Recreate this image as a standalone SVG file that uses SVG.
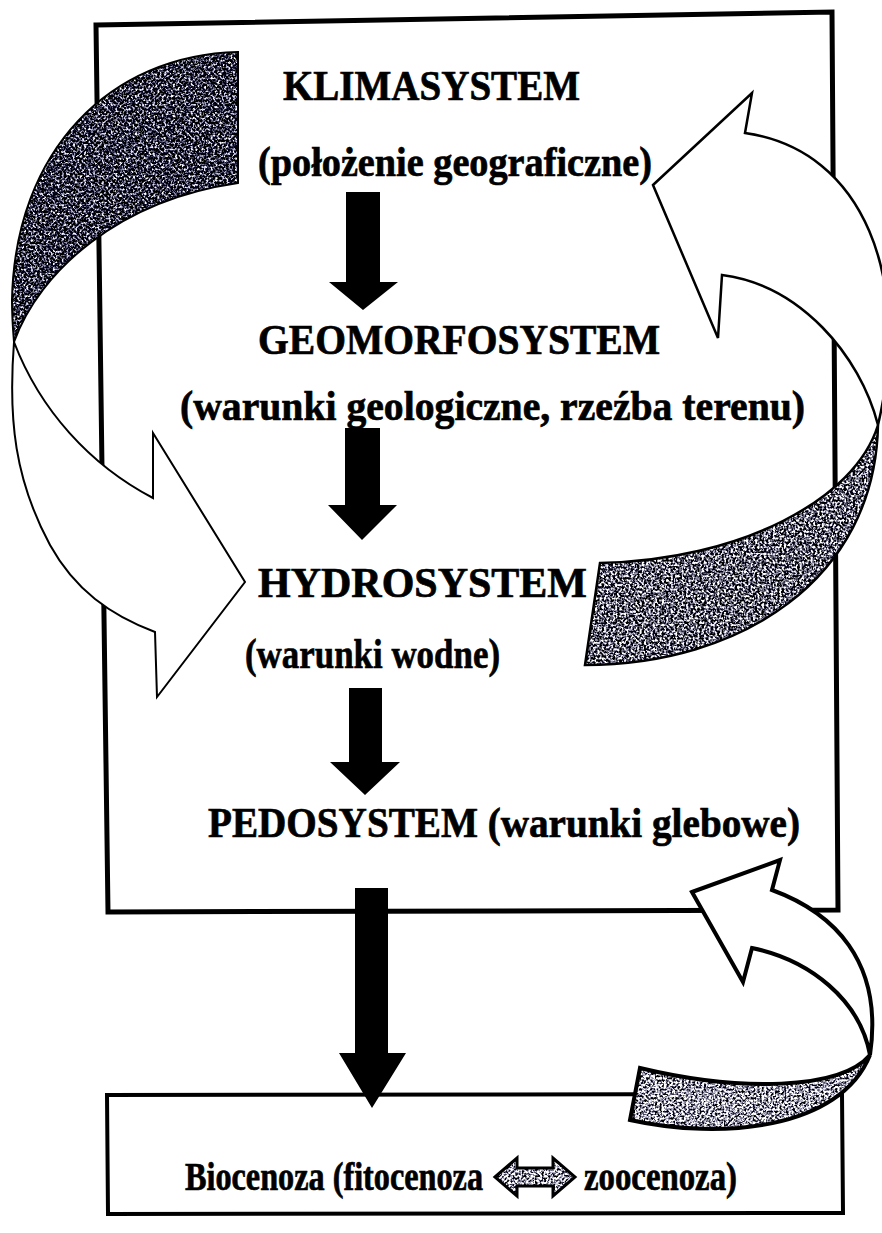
<svg xmlns="http://www.w3.org/2000/svg" xmlns:xlink="http://www.w3.org/1999/xlink" width="882" height="1233" viewBox="0 0 882 1233">
  <style>
    .frame { fill: none; stroke: #000; stroke-width: 5; stroke-linejoin: miter; }
    .blk { fill: #000; stroke: none; }
    .wh { fill: #fff; stroke: #000; stroke-linejoin: miter; }
    .ol { fill: none; stroke: #000; stroke-linejoin: miter; }
    .t { font-family: "Liberation Serif", "Times New Roman", serif; font-weight: bold; fill: #000; stroke: #000; stroke-width: 0.7; }
    .big { font-size: 43px; }
    .small { font-size: 40px; }
  </style>
  <defs>
    <filter id="texDark" x="-5%" y="-5%" width="110%" height="110%" color-interpolation-filters="sRGB">
      <feTurbulence type="fractalNoise" baseFrequency="0.45" numOctaves="2" seed="7"/>
      <feColorMatrix type="matrix" values="3.6 0 0 0 -1.65  3.6 0 0 0 -1.65  3.6 0 0 0 -1.55  0 0 0 0 1"/>
      <feComposite in2="SourceGraphic" operator="in"/>
    </filter>
    <filter id="texMid" x="-5%" y="-5%" width="110%" height="110%" color-interpolation-filters="sRGB">
      <feTurbulence type="fractalNoise" baseFrequency="0.45" numOctaves="2" seed="3"/>
      <feColorMatrix type="matrix" values="3.6 0 0 0 -1.42  3.6 0 0 0 -1.42  3.6 0 0 0 -1.35  0 0 0 0 1"/>
      <feComposite in2="SourceGraphic" operator="in"/>
    </filter>
    <filter id="texLight" x="-5%" y="-5%" width="110%" height="110%" color-interpolation-filters="sRGB">
      <feTurbulence type="fractalNoise" baseFrequency="0.45" numOctaves="2" seed="11"/>
      <feColorMatrix type="matrix" values="3.6 0 0 0 -1.2  3.6 0 0 0 -1.2  3.6 0 0 0 -1.13  0 0 0 0 1"/>
      <feComposite in2="SourceGraphic" operator="in"/>
    </filter>
    <path id="ribL-dark" d="M238,52 C110,55 15,150 12,300 C12,315 13,330 14,342 C40,270 120,200 238,183 Z"/>
    <path id="ribR-dark" d="M878,425 C855,500 740,560 600,563 L585,665 C740,665 875,580 878,425 Z"/>
    <path id="ribB-dark" d="M870,1055 C840,1090 740,1092 640,1068 L630,1120 C720,1140 840,1130 870,1055 Z"/>
    <path id="bio-arrow" d="M495,1177 L517,1158 L517,1168 L553,1168 L553,1158 L575,1177 L553,1196 L553,1186 L517,1186 L517,1196 Z"/>
  </defs>

  <rect x="0" y="0" width="882" height="1233" fill="#fff"/>

  <!-- Main system frame -->
  <g id="main-frame">
    <path class="frame" d="M96,25 L832,12 L838,910 L108,912 Z"/>
  </g>

  <!-- Bottom biocenosis box -->
  <g id="biocenoza">
    <path class="frame" d="M107,1095 L842,1094 L843,1213 L108,1214 Z" style="stroke-width:4"/>
    <text class="t small" x="185" y="1190" textLength="298" lengthAdjust="spacingAndGlyphs">Biocenoza (fitocenoza</text>
    <use xlink:href="#bio-arrow" fill="#666" filter="url(#texLight)"/>
    <use xlink:href="#bio-arrow" class="ol" style="stroke-width:3"/>
    <text class="t small" x="584" y="1190" textLength="153" lengthAdjust="spacingAndGlyphs">zoocenoza)</text>
  </g>

  <g id="klimasystem">
    <text class="t big" x="283" y="100" textLength="297" lengthAdjust="spacingAndGlyphs">KLIMASYSTEM</text>
    <text class="t big" x="258" y="176" textLength="394" lengthAdjust="spacingAndGlyphs">(położenie geograficzne)</text>
  </g>

  <g id="geomorfosystem">
    <text class="t big" x="258" y="354" textLength="402" lengthAdjust="spacingAndGlyphs">GEOMORFOSYSTEM</text>
    <text class="t big" x="180" y="420" textLength="625" lengthAdjust="spacingAndGlyphs">(warunki geologiczne, rzeźba terenu)</text>
  </g>

  <g id="hydrosystem">
    <text class="t big" x="258" y="597" textLength="329" lengthAdjust="spacingAndGlyphs">HYDROSYSTEM</text>
    <text class="t big" x="245" y="668" textLength="255" lengthAdjust="spacingAndGlyphs">(warunki wodne)</text>
  </g>

  <g id="pedosystem">
    <text class="t big" x="208" y="837" textLength="592" lengthAdjust="spacingAndGlyphs">PEDOSYSTEM (warunki glebowe)</text>
  </g>

  <g id="connectors">
    <!-- straight black arrows -->
    <path class="blk" d="M346,192 L380,192 L380,282 L398,282 L363,310 L329,282 L346,282 Z"/>
    <path class="blk" d="M345,428 L380,428 L380,505 L397,505 L362,540 L328,505 L345,505 Z"/>
    <path class="blk" d="M349,688 L382,688 L382,762 L400,762 L365,795 L330,762 L349,762 Z"/>
    <path class="blk" d="M355,888 L388,888 L388,1053 L406,1053 L372,1108 L339,1053 L355,1053 Z"/>

    <!-- left twisted ribbon: KLIMASYSTEM to HYDROSYSTEM -->
    <g id="ribbon-left">
      <use xlink:href="#ribL-dark" fill="#222" filter="url(#texDark)"/>
      <use xlink:href="#ribL-dark" class="ol" style="stroke-width:2"/>
      <path class="wh" style="stroke-width:2" d="M14,342 C8,420 15,480 50,545 C75,590 110,615 155,632 L157,697 L245,582 L153,433 L153,498 C90,465 40,410 14,342 Z"/>
    </g>

    <!-- right twisted ribbon: HYDROSYSTEM back to KLIMASYSTEM -->
    <g id="ribbon-right">
      <path class="wh" style="stroke-width:2.5" d="M653,185 L752,93 L745,133 C865,150 912,280 878,425 C860,355 800,285 722,275 L718,338 Z"/>
      <use xlink:href="#ribR-dark" fill="#555" filter="url(#texMid)"/>
      <use xlink:href="#ribR-dark" class="ol" style="stroke-width:2.5"/>
    </g>

    <!-- bottom ribbon: biocenoza back to PEDOSYSTEM -->
    <g id="ribbon-bottom">
      <path class="wh" style="stroke-width:4" d="M692,892 L780,860 L772,890 C832,912 884,960 870,1055 C860,1000 810,960 752,948 L743,982 Z"/>
      <use xlink:href="#ribB-dark" fill="#555" filter="url(#texLight)"/>
      <use xlink:href="#ribB-dark" class="ol" style="stroke-width:4"/>
    </g>
  </g>
</svg>
